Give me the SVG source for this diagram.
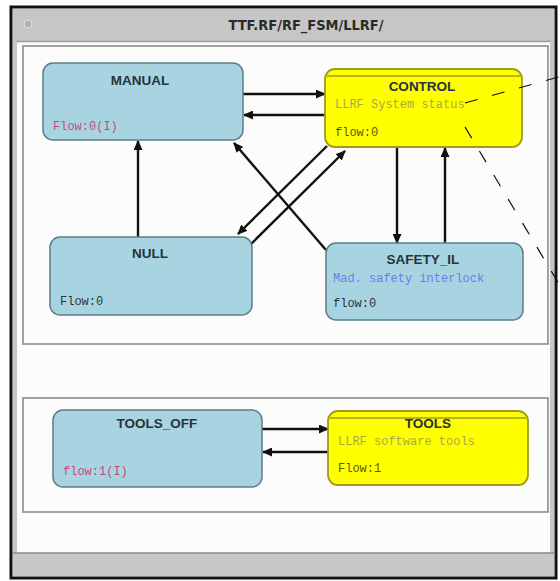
<svg xmlns="http://www.w3.org/2000/svg" width="560" height="581" viewBox="0 0 560 581">
<defs>
<style>
.blue{fill:#a8d4e2;stroke:#5e7c88;stroke-width:1.5}
.yellow{fill:#ffff00;stroke:#9c9c1c;stroke-width:1.8}
.lbl{font-family:"Liberation Sans",Arial,sans-serif;font-weight:bold;font-size:13.5px;fill:#26323c;text-anchor:middle}
.mono{font-family:"Liberation Mono","DejaVu Sans Mono",monospace;font-size:12px}
.flowm{fill:#c8487e}
.flowd{fill:#2a3438}
.flowy{fill:#5a5a10}
.desc-y{fill:#a8a848}
.desc-b{fill:#6a7ee8}
.conn line{stroke:#111;stroke-width:2.4;marker-end:url(#ah)}
.panel{fill:none;stroke:#8a8a8a;stroke-width:1.6}
</style>
<marker id="ah" markerUnits="userSpaceOnUse" markerWidth="10" markerHeight="9" refX="9" refY="4.5" orient="auto">
<path d="M0,0 L10,4.5 L0,9 z" fill="#111"/>
</marker>
</defs>
<rect x="0" y="0" width="560" height="581" fill="#ffffff"/>
<!-- window frame -->
<rect x="11" y="7" width="545" height="571" fill="#fcfcfc" stroke="#111" stroke-width="3"/>
<rect x="13" y="9" width="541" height="32" fill="#c6c6c6"/>
<line x1="13" y1="41.5" x2="554" y2="41.5" stroke="#9a9a9a" stroke-width="1.5"/>
<rect x="13" y="41" width="4" height="512" fill="#c6c6c6"/>
<rect x="550" y="41" width="4" height="512" fill="#c6c6c6"/>
<rect x="13" y="553" width="541" height="23" fill="#c8c8c8"/>
<line x1="13" y1="553" x2="554" y2="553" stroke="#8a8a8a" stroke-width="1.5"/>
<circle cx="28" cy="24" r="4" fill="#b0b0b0" stroke="#e0e0e0" stroke-width="1"/>
<text x="306" y="30" font-family="'DejaVu Sans Condensed','Liberation Sans',sans-serif" font-weight="bold" font-size="13.5" fill="#2a2a2a" text-anchor="middle" textLength="155" lengthAdjust="spacingAndGlyphs">TTF.RF/RF_FSM/LLRF/</text>
<!-- panels -->
<rect class="panel" x="23" y="46" width="525" height="298"/>
<rect class="panel" x="23" y="398" width="525" height="114"/>
<!-- connectors -->
<g id="connectors" class="conn">
<line x1="243" y1="94" x2="325" y2="94"/>
<line x1="325" y1="115" x2="244" y2="115"/>
<line x1="138" y1="237" x2="138" y2="141"/>
<line x1="327" y1="146" x2="238" y2="234"/>
<line x1="248" y1="247" x2="345" y2="151"/>
<line x1="326" y1="250" x2="234" y2="143"/>
<line x1="397" y1="147" x2="397" y2="243"/>
<line x1="445" y1="243" x2="445" y2="148"/>
<line x1="262" y1="429" x2="328" y2="429"/>
<line x1="328" y1="452" x2="263" y2="452"/>
</g>
<!-- nodes -->
<g id="manual">
<rect class="blue" x="43" y="63" width="200" height="77" rx="10"/>
<text class="lbl" x="140" y="85">MANUAL</text>
<text class="mono flowm" x="53" y="130">Flow:0(I)</text>
</g>
<g id="control">
<rect class="yellow" x="325" y="69" width="197" height="78" rx="10"/>
<line x1="327" y1="76" x2="520" y2="76" stroke="#9c9c1c" stroke-width="1.5"/>
<text class="lbl" x="422" y="91">CONTROL</text>
<text class="mono desc-y" x="335" y="108">LLRF System status</text>
<text class="mono flowy" x="335" y="136">flow:0</text>
</g>
<g id="null">
<rect class="blue" x="50" y="237" width="202" height="78" rx="10"/>
<text class="lbl" x="150" y="258">NULL</text>
<text class="mono flowd" x="60" y="305">Flow:0</text>
</g>
<g id="safety_il">
<rect class="blue" x="326" y="243" width="197" height="77" rx="10"/>
<text class="lbl" x="423" y="264">SAFETY_IL</text>
<text class="mono desc-b" x="333" y="282">Mad. safety interlock</text>
<text class="mono flowd" x="333" y="307">flow:0</text>
</g>
<g id="tools_off">
<rect class="blue" x="53" y="410" width="209" height="77" rx="10"/>
<text class="lbl" x="157" y="428">TOOLS_OFF</text>
<text class="mono flowm" x="63" y="475">flow:1(I)</text>
</g>
<g id="tools">
<rect class="yellow" x="328" y="411" width="200" height="74" rx="10"/>
<line x1="330" y1="418" x2="526" y2="418" stroke="#9c9c1c" stroke-width="1.5"/>
<text class="lbl" x="428" y="428">TOOLS</text>
<text class="mono desc-y" x="338" y="445">LLRF software tools</text>
<text class="mono flowy" x="338" y="472">Flow:1</text>
</g>
<!-- dashed pointer lines -->
<g id="pointers" stroke="#111" stroke-width="1.2" stroke-dasharray="13 15" fill="none">
<line x1="465" y1="103" x2="562" y2="76"/>
<line x1="465" y1="127" x2="562" y2="289"/>
</g>
</svg>
